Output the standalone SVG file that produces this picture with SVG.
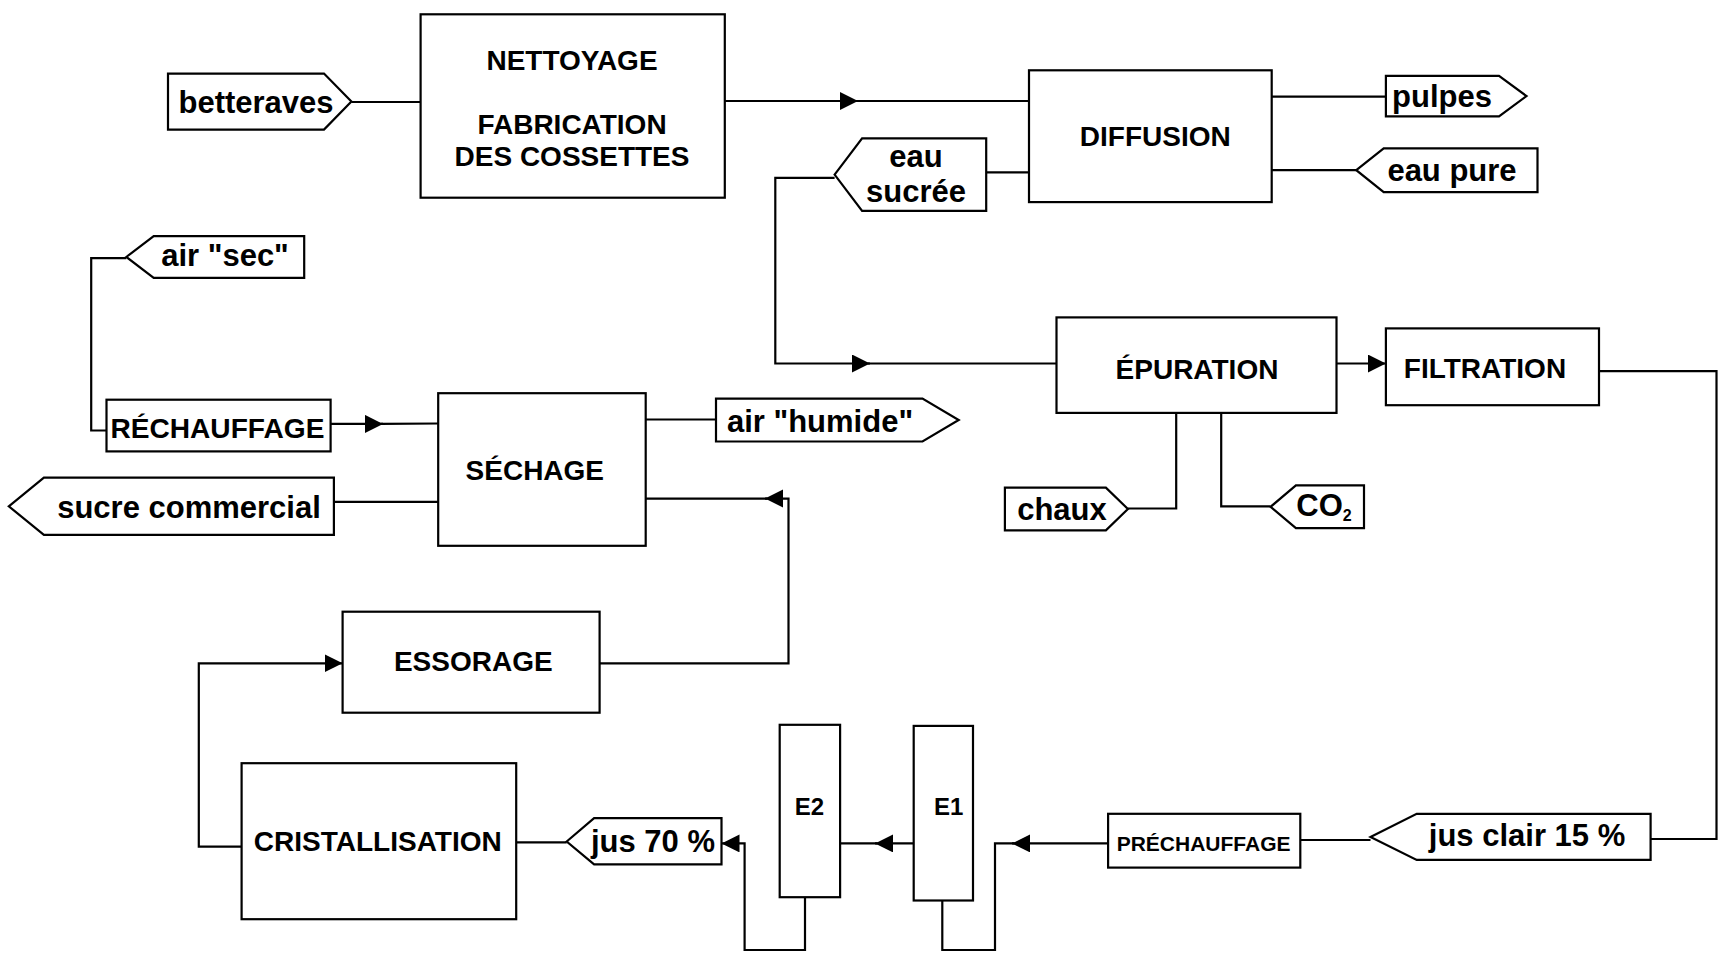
<svg xmlns="http://www.w3.org/2000/svg" width="1722" height="958" viewBox="0 0 1722 958">
<style>
  .box{fill:#fff;stroke:#000;stroke-width:2.2}
  .tag{fill:#fff;stroke:#000;stroke-width:2.2;stroke-linejoin:miter}
  .lbl{font-family:"Liberation Sans",Arial,Helvetica,sans-serif;font-weight:bold;font-size:28px;fill:#000;text-anchor:middle}
  .tl{font-size:31px}
  .sm{font-size:21px}
  .e{font-size:24px}
  .cn line,.cn polyline{fill:none;stroke:#000;stroke-width:2.2}
</style>
<defs>
  <marker id="ah" markerUnits="userSpaceOnUse" markerWidth="20" markerHeight="20" refX="18" refY="9" orient="auto">
    <path d="M0,0 L18,9 L0,18 Z" fill="#000"/>
  </marker>
</defs>
<rect width="1722" height="958" fill="#fff"/>

<g class="cn" id="connectors">
  <line x1="351.4" y1="102" x2="420.6" y2="102"/>
  <line x1="724.8" y1="101" x2="858" y2="101" marker-end="url(#ah)"/>
  <line x1="856" y1="101" x2="1029" y2="101"/>
  <line x1="1271.7" y1="96.6" x2="1385.9" y2="96.6"/>
  <line x1="1271.7" y1="170.2" x2="1356.3" y2="170.2"/>
  <line x1="986.2" y1="172.4" x2="1029" y2="172.4"/>
  <polyline points="834.6,177.9 775.3,177.9 775.3,363.5 870,363.5" marker-end="url(#ah)"/>
  <line x1="868" y1="363.5" x2="1056.5" y2="363.5"/>
  <line x1="1336.5" y1="363.5" x2="1385.9" y2="363.5" marker-end="url(#ah)"/>
  <polyline points="1599,371.2 1716.5,371.2 1716.5,839 1650.6,839"/>
  <line x1="1370.5" y1="840" x2="1300.3" y2="840"/>
  <line x1="1108.1" y1="843.4" x2="1012" y2="843.4" marker-end="url(#ah)"/>
  <polyline points="1014,843.4 995,843.4 995,950 942.3,950 942.3,900.5"/>
  <line x1="913.7" y1="843.4" x2="875" y2="843.4" marker-end="url(#ah)"/>
  <line x1="877" y1="843.4" x2="840.1" y2="843.4"/>
  <polyline points="805,897.2 805,950 744.6,950 744.6,843.4 721.5,843.4" marker-end="url(#ah)"/>
  <line x1="566.7" y1="842.3" x2="516.2" y2="842.3"/>
  <polyline points="241.6,846.7 198.8,846.7 198.8,663.3 342.6,663.3" marker-end="url(#ah)"/>
  <polyline points="599.6,663.3 788.5,663.3 788.5,498.6 765,498.6" marker-end="url(#ah)"/>
  <line x1="767" y1="498.6" x2="645.7" y2="498.6"/>
  <line x1="645.7" y1="419.5" x2="716" y2="419.5"/>
  <line x1="333.9" y1="501.9" x2="438.2" y2="501.9"/>
  <line x1="330.6" y1="423.9" x2="383" y2="423.9" marker-end="url(#ah)"/>
  <line x1="381" y1="423.9" x2="438.2" y2="423.5"/>
  <polyline points="126.3,258.1 91.2,258.1 91.2,430.5 106.5,430.5"/>
  <polyline points="1127.9,508.5 1176.2,508.5 1176.2,412.9"/>
  <polyline points="1270.6,506.3 1221.2,506.3 1221.2,412.9"/>
</g>

<g id="betteraves"><polygon class="tag" points="168,73.6 324,73.6 351.4,101.6 324,129.6 168,129.6"/><text class="lbl tl" x="256" y="113">betteraves</text></g>
<g id="nettoyage"><rect class="box" x="420.6" y="14.3" width="304.2" height="183.4"/>
  <text class="lbl" x="572" y="69.5">NETTOYAGE</text>
  <text class="lbl" x="572" y="134">FABRICATION</text>
  <text class="lbl" x="572" y="166">DES COSSETTES</text></g>
<g id="diffusion"><rect class="box" x="1029" y="70.3" width="242.7" height="131.8"/><text class="lbl" x="1155.3" y="146.3">DIFFUSION</text></g>
<g id="pulpes"><polygon class="tag" points="1385.9,75.8 1499,75.8 1526.5,96.1 1499,116.4 1385.9,116.4"/><text class="lbl tl" x="1442" y="107">pulpes</text></g>
<g id="eau-pure"><polygon class="tag" points="1356.3,170.2 1383.7,148.3 1537.5,148.3 1537.5,192.2 1383.7,192.2"/><text class="lbl tl" x="1452" y="181">eau pure</text></g>
<g id="eau-sucree"><polygon class="tag" points="834.6,174.6 862.1,138.4 986.2,138.4 986.2,210.9 862.1,210.9"/>
  <text class="lbl tl" x="916" y="167">eau</text><text class="lbl tl" x="916" y="202">sucrée</text></g>
<g id="air-sec"><polygon class="tag" points="126.3,257 153.7,236.1 304.2,236.1 304.2,277.8 153.7,277.8"/><text class="lbl tl" x="225" y="266">air "sec"</text></g>
<g id="epuration"><rect class="box" x="1056.5" y="317.4" width="280" height="95.5"/><text class="lbl" x="1197" y="379">ÉPURATION</text></g>
<g id="filtration"><rect class="box" x="1385.9" y="328.4" width="213.1" height="76.8"/><text class="lbl" x="1485" y="378">FILTRATION</text></g>
<g id="rechauffage"><rect class="box" x="106.5" y="399.7" width="224.1" height="51.7"/><text class="lbl" x="217.4" y="438.3" textLength="214" lengthAdjust="spacingAndGlyphs">RÉCHAUFFAGE</text></g>
<g id="sechage"><rect class="box" x="438.2" y="393.2" width="207.5" height="152.6"/><text class="lbl" x="534.8" y="480">SÉCHAGE</text></g>
<g id="air-humide"><polygon class="tag" points="716,398.6 922.5,398.6 958.7,420 922.5,441.5 716,441.5"/><text class="lbl tl" x="820" y="431.8">air "humide"</text></g>
<g id="sucre-commercial"><polygon class="tag" points="8.8,506.3 43.9,477.7 333.9,477.7 333.9,534.8 43.9,534.8"/><text class="lbl tl" x="189" y="517.5">sucre commercial</text></g>
<g id="chaux"><polygon class="tag" points="1004.9,487.6 1105.9,487.6 1127.9,509 1105.9,530.4 1004.9,530.4"/><text class="lbl tl" x="1062" y="519.7">chaux</text></g>
<g id="co2"><polygon class="tag" points="1270.6,506.8 1295.9,485.4 1364,485.4 1364,528.2 1295.9,528.2"/><text class="lbl tl" x="1324" y="516">CO<tspan font-size="16" dy="5">2</tspan></text></g>
<g id="essorage"><rect class="box" x="342.6" y="611.7" width="257" height="101"/><text class="lbl" x="473.3" y="671">ESSORAGE</text></g>
<g id="cristallisation"><rect class="box" x="241.6" y="763.2" width="274.6" height="156"/><text class="lbl" x="377.8" y="851" font-size="30" textLength="248" lengthAdjust="spacingAndGlyphs">CRISTALLISATION</text></g>
<g id="jus70"><polygon class="tag" points="566.7,841.5 594.1,818.2 721.5,818.2 721.5,864.3 594.1,864.3"/><text class="lbl tl" x="653" y="852.4">jus 70 %</text></g>
<g id="e2"><rect class="box" x="779.7" y="724.8" width="60.4" height="172.4"/><text class="lbl e" x="809.4" y="814.6">E2</text></g>
<g id="e1"><rect class="box" x="913.7" y="725.9" width="59.3" height="174.6"/><text class="lbl e" x="948.8" y="814.6">E1</text></g>
<g id="prechauffage"><rect class="box" x="1108.1" y="813.8" width="192.2" height="53.8"/><text class="lbl sm" x="1203.6" y="851">PRÉCHAUFFAGE</text></g>
<g id="jus-clair"><polygon class="tag" points="1370.5,837 1416.7,813.8 1650.6,813.8 1650.6,859.9 1416.7,859.9"/><text class="lbl tl" x="1527" y="845.8">jus clair 15 %</text></g>
</svg>
